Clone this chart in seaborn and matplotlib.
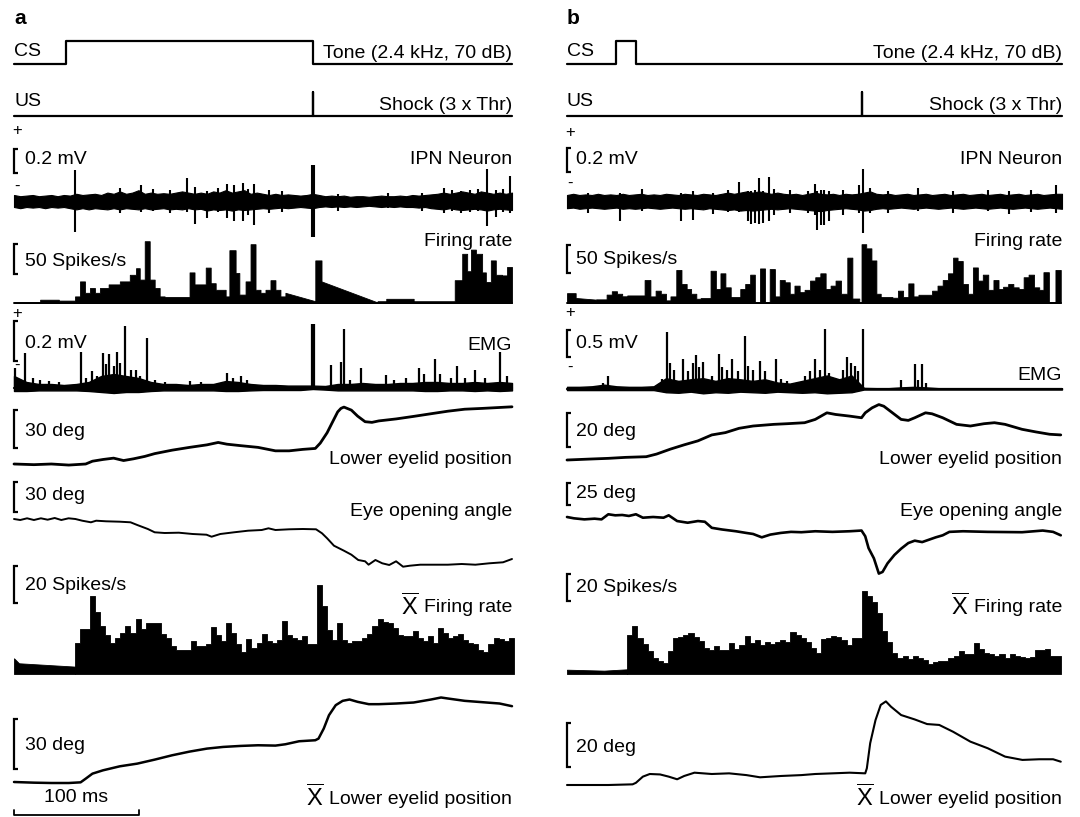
import numpy as np
import matplotlib
matplotlib.use("Agg")
import matplotlib.pyplot as plt
import seaborn as sns

sns.set_theme(style="white")
plt.rcParams['font.family'] = ['Liberation Sans', 'DejaVu Sans']
plt.rcParams['mathtext.fontset'] = 'custom'
plt.rcParams['mathtext.rm'] = 'Liberation Sans'

# ---------------- data (time in ms from sweep start) ----------------
# stimulus traces
cs_a_t = [0, 42, 42, 240, 240, 400]
cs_a_v = [0, 0, 1, 1, 0, 0]
us_a_t = [0, 240, 240, 240, 400]
us_a_v = [0, 0, 1, 0, 0]
cs_b_t = [0, 39.5, 39.5, 55.7, 55.7, 400]
cs_b_v = [0, 0, 1, 1, 0, 0]
us_b_t = [0, 238, 238, 238, 400]
us_b_v = [0, 0, 1, 0, 0]

# IPN unit recording (mV), noise envelope sampled every 5 ms + spikes
ipn_t = np.arange(0, 401, 5)
ipn_a_hi = [.05, .04, .045, .05, .04, .045, .05, .04, .05, .045,
            .06, .05, .055, .06, .05, .07, .06, .08, .06, .07,
            .09, .06, .07, .06, .065, .06, .07, .08, .07, .06,
            .07, .06, .08, .07, .09, .07, .08, .09, .06, .07,
            .06, .05, .06, .05, .055, .05, .045, .05, .06, .05,
            .04, .045, .04, .045, .035, .04, .04, .035, .04, .045,
            .04, .04, .045, .04, .05, .045, .05, .055, .06, .07,
            .06, .07, .08, .07, .06, .08, .07, .06, .07, .06, .07]
ipn_a_lo = [-.05, -.06, -.05, -.055, -.05, -.06, -.05, -.055, -.05, -.06,
            -.07, -.06, -.07, -.06, -.065, -.07, -.06, -.07, -.06, -.065,
            -.07, -.06, -.07, -.065, -.06, -.07, -.065, -.07, -.06, -.07,
            -.065, -.08, -.07, -.075, -.07, -.08, -.07, -.075, -.07, -.065,
            -.06, -.065, -.06, -.055, -.06, -.055, -.05, -.055, -.06, -.05,
            -.045, -.05, -.045, -.05, -.045, -.05, -.045, -.04, -.045, -.05,
            -.045, -.05, -.045, -.05, -.05, -.055, -.05, -.06, -.065, -.07,
            -.06, -.07, -.075, -.07, -.065, -.07, -.08, -.07, -.065, -.07, -.075]
ipn_a_spk_t = [49, 85, 102, 112, 125, 139, 145, 155, 164, 171, 177, 184, 188, 193,
               205, 215, 239, 240, 241, 260, 300, 328, 345, 352, 359, 366, 373,
               380, 387, 393, 398]
ipn_a_spk_hi = [.26, .11, .13, .10, .09, .19, .12, .08, .11, .14, .13, .15, .10, .14,
                .09, .08, .30, .30, .30, .06, .07, .07, .11, .09, .08, .09, .10,
                .27, .09, .10, .21]
ipn_a_spk_lo = [-.26, -.10, -.09, -.08, -.10, -.09, -.19, -.14, -.09, -.14, -.17, -.17, -.12, -.20,
                -.10, -.09, -.30, -.30, -.30, -.08, -.06, -.08, -.10, -.08, -.10, -.09, -.08,
                -.21, -.13, -.09, -.10]

ipn_b_hi = [.05, .06, .05, .055, .05, .06, .05, .055, .05, .06,
            .05, .055, .06, .05, .055, .05, .06, .055, .05, .06,
            .055, .05, .06, .055, .05, .06, .07, .06, .07, .08,
            .07, .08, .07, .06, .07, .06, .055, .06, .05, .06,
            .07, .06, .055, .06, .05, .06, .055, .06, .07, .08,
            .06, .055, .06, .05, .055, .06, .05, .055, .06, .05,
            .055, .06, .05, .055, .06, .05, .055, .06, .05, .055,
            .06, .05, .055, .06, .05, .055, .06, .05, .055, .06, .06]
ipn_b_lo = [-.06, -.055, -.065, -.06, -.055, -.06, -.065, -.06, -.055, -.065,
            -.06, -.065, -.06, -.055, -.06, -.065, -.06, -.055, -.06, -.065,
            -.06, -.065, -.07, -.06, -.065, -.07, -.075, -.07, -.08, -.075,
            -.08, -.075, -.07, -.065, -.07, -.065, -.06, -.065, -.07, -.075,
            -.08, -.085, -.075, -.07, -.065, -.06, -.065, -.07, -.08, -.075,
            -.065, -.06, -.065, -.06, -.055, -.06, -.065, -.06, -.055, -.06,
            -.065, -.06, -.055, -.06, -.065, -.06, -.055, -.06, -.065, -.06,
            -.055, -.06, -.065, -.06, -.055, -.06, -.065, -.06, -.055, -.06, -.065]
ipn_b_spk_t = [17, 43, 61, 92, 102, 118, 130, 139, 146, 149, 152, 155, 158, 163, 167,
               180, 195, 200, 202, 205, 208, 212, 223, 236, 239, 245, 259, 284, 312,
               340, 357, 375, 395]
ipn_b_spk_hi = [.07, .07, .10, .07, .08, .07, .09, .16, .08, .08, .09, .19, .08, .20, .10,
                .09, .08, .14, .08, .09, .09, .08, .09, .13, .27, .11, .08, .11, .08,
                .09, .08, .09, .13]
ipn_b_spk_lo = [-.10, -.17, -.08, -.17, -.16, -.11, -.09, -.09, -.17, -.19, -.18, -.19, -.18, -.17, -.12,
                -.10, -.10, -.12, -.24, -.20, -.20, -.17, -.12, -.10, -.27, -.10, -.10, -.08, -.10,
                -.08, -.11, -.09, -.10]

# single-trial firing rate (spikes/s): bin edges, rate at bin start / end
fr_a_edges = [0, 21, 36, 49, 53, 57, 61, 65, 69, 76, 85, 93, 98, 101, 105, 109, 113, 117,
              121, 141, 145, 154, 158, 162, 170, 173, 178, 181, 186, 190, 194, 198, 202,
              206, 210, 214, 218, 242, 247, 292, 299, 321, 354, 360, 364, 367, 371, 376,
              379, 383, 387, 392, 396, 400]
fr_a_start = [1, 5.5, 4, 11, 36, 17, 25, 17, 25, 31, 36, 47, 58, 39, 103, 39, 25, 11, 10,
              51, 31, 59, 33, 22, 11, 88, 50, 14, 36, 98, 22, 17, 22, 38, 22, 11, 17, 71,
              36, 3, 7, 3, 38, 82, 53, 89, 82, 51, 35, 71, 47, 46, 60]
fr_a_end = [1, 5.5, 4, 11, 36, 17, 25, 17, 25, 31, 36, 47, 58, 39, 103, 39, 25, 11, 10,
            51, 31, 59, 33, 22, 11, 88, 50, 14, 36, 98, 22, 17, 22, 38, 22, 11, 3, 71,
            1, 3, 7, 3, 38, 82, 53, 89, 82, 51, 35, 71, 47, 46, 60]

fr_b_edges = [0, 7, 23.7, 32, 36.2, 40.4, 44.6, 48.7, 62.7, 67.4, 71.6, 75.8, 80, 83.6,
              88.3, 92.5, 96.7, 100.3, 104.5, 108, 116, 120.3, 124, 128, 132.3, 140, 144,
              148, 151.8, 156, 160, 163.8, 168, 171.9, 176, 180, 183.8, 188, 192, 196.4,
              200.6, 204.7, 209, 213, 217, 221.4, 226.5, 230.6, 236.2, 238, 241.8, 246,
              250, 253.5, 263, 267.4, 271.6, 275.8, 280, 284, 295, 299.4, 303.6, 307.8,
              312, 315.6, 319.8, 324, 328, 332, 336, 340.4, 344.6, 348.7, 352.4, 356.5,
              360.7, 365, 369, 373, 377.4, 381.6, 385, 389.4, 394.7, 399]
fr_b_start = [17.6, 9, 6.5, 15, 21, 16.5, 12, 13.5, 41, 11.8, 22, 16.5, 4.7, 11.8, 59, 34,
              25, 16.5, 7.6, 8.8, 57.6, 25, 53, 28, 10.6, 25, 34, 50.6, 1.8, 61.7, 1.8,
              60.6, 11.8, 41, 37, 16.5, 31, 19.4, 23.5, 40, 46, 53, 25, 31, 40, 16.5, 81,
              8, 0, 105, 97.6, 76, 16.5, 10.6, 9.4, 22, 10.6, 35, 11.8, 14.7, 22, 31, 41,
              53, 81, 75, 34, 16.5, 63.5, 40, 50.6, 23.5, 41, 25, 29, 34, 28, 25, 46,
              50.6, 28, 23.5, 55, 1.8, 59]
fr_b_end = [17.6, 6, 6.5, 15, 21, 16.5, 12, 13.5, 41, 11.8, 22, 16.5, 4.7, 11.8, 59, 34,
            25, 16.5, 7.6, 8.8, 57.6, 25, 53, 28, 10.6, 25, 34, 50.6, 1.8, 61.7, 1.8,
            60.6, 11.8, 41, 37, 16.5, 31, 19.4, 23.5, 40, 46, 53, 25, 31, 40, 16.5, 81,
            8, 0, 105, 97.6, 76, 16.5, 10.6, 9.4, 22, 10.6, 35, 11.8, 14.7, 22, 31, 41,
            53, 81, 75, 34, 16.5, 63.5, 40, 50.6, 23.5, 41, 25, 29, 34, 28, 25, 46,
            50.6, 28, 23.5, 55, 1.8, 59]

# EMG (mV): baseline envelope every 10 ms + individual bursts
emg_t = np.arange(0, 401, 10)
emg_a_hi = [.06, .03, .02, .02, .015, .02, .03, .06, .07, .06,
            .05, .03, .02, .02, .015, .02, .02, .035, .03, .02,
            .015, .015, .012, .012, .012, .01, .02, .02, .025, .02,
            .02, .025, .025, .03, .03, .025, .025, .03, .025, .03, .025]
emg_a_lo = [-.015, -.015, -.012, -.012, -.012, -.012, -.015, -.02, -.025, -.02,
            -.02, -.015, -.012, -.012, -.012, -.012, -.012, -.015, -.015, -.012,
            -.01, -.01, -.01, -.01, -.005, -.008, -.012, -.012, -.012, -.012,
            -.012, -.012, -.012, -.015, -.015, -.012, -.012, -.015, -.012, -.015, -.012]
emg_a_pk_t = [1, 9, 15, 21, 28, 36, 53.5, 58, 63, 67, 71.5, 74, 76.5, 80, 83, 85, 89.5,
              93.6, 97.8, 101, 107, 113, 121, 141, 150, 171, 176, 182, 187, 239, 241,
              255, 262.6, 265, 270, 279, 298.6, 305, 315, 325, 329, 338, 342, 351, 356,
              362, 370.6, 378, 390.6, 396]
emg_a_pk_v = [.10, .175, .05, .04, .035, .03, .18, .05, .083, .06, .175, .12, .17, .11,
              .18, .125, .31, .09, .09, .06, .25, .04, .03, .035, .03, .075, .05, .06,
              .04, .32, .32, .117, .13, .295, .04, .10, .066, .04, .05, .10, .07, .145,
              .07, .05, .108, .05, .088, .05, .178, .06]

emg_b_hi = [.04, .04, .05, .08, .05, .04, .04, .05, .2, .15,
            .18, .2, .15, .2, .18, .15, .18, .12, .1, .15,
            .2, .25, .18, .25, .02, .015, .015, .03, .04, .03,
            .015, .015, .015, .015, .015, .015, .015, .015, .015, .015, .015]
emg_b_lo = [-.02, -.02, -.02, -.02, -.02, -.02, -.02, -.02, -.06, -.07,
            -.05, -.08, -.06, -.07, -.05, -.06, -.07, -.05, -.06, -.07,
            -.06, -.08, -.07, -.06, -.01, -.01, -.01, -.01, -.01, -.01,
            -.01, -.01, -.01, -.01, -.01, -.01, -.01, -.01, -.01, -.01, -.01]
emg_b_pk_t = [29, 33.4, 76.6, 80.8, 83.6, 86.4, 94, 97.5, 101.7, 104.5, 107, 110, 117,
              122.5, 125, 129.5, 133.7, 138, 143.5, 146, 150, 156, 160, 168.5, 172.7,
              178, 192, 196.4, 200.6, 204.7, 208.4, 211.7, 214.5, 222.8, 226.5, 229.8,
              232.6, 235.4, 239, 270, 281, 284, 287, 290]
emg_b_pk_v = [.11, .24, .19, 1.05, .49, .36, .55, .33, .49, .625, .4, .5, .24, .64, .4,
              .36, .56, .33, .975, .425, .36, .52, .33, .55, .18, .14, .24, .33, .56,
              .36, 1.11, .3, .18, .36, .6, .49, .425, .33, 1.11, .17, .46, .17, .46, .11]

# lower eyelid position (deg)
lid_a_t = [0, 16, 30, 44, 57.6, 63, 71.5, 80, 88, 96, 105, 113, 127, 141, 155, 164, 171,
           182, 196, 210, 221, 232, 242, 246, 251.5, 255.7, 260, 262.6, 265, 271, 276,
           282, 287.5, 293, 307, 321, 335, 348.5, 362, 376, 390, 400]
lid_a_v = [0, -0.5, 0, -0.8, 0, 2.1, 3.4, 4.4, 2.6, 3.9, 5.7, 7.8, 10.4, 12.5, 14.4,
           16.2, 14.9, 13.8, 12.5, 9.9, 9.9, 11, 11.7, 15.7, 23.5, 31.3, 39.2, 41.8,
           42.8, 40.5, 36, 31.8, 31.3, 32.4, 33.9, 35.8, 37.8, 39.7, 41.2, 41.8, 42.5, 43]
lid_b_t = [0, 19.5, 33.4, 47.4, 64, 72.4, 83.6, 94.7, 105.8, 117, 128, 139, 150.4, 167,
           178, 192, 200.6, 210, 217, 228.4, 238, 241, 246.5, 252, 256, 263, 270, 275.8,
           281, 289.7, 295, 303.6, 314.8, 326, 337, 345.4, 354, 367.7, 379, 390, 399]
lid_b_v = [0, 0.6, 1, 1.6, 2, 3.6, 6.6, 9.2, 11.6, 15.2, 16.6, 19.2, 20.6, 21.6, 22,
           22.6, 24.6, 28.6, 27.6, 26.6, 25.6, 28.6, 31.6, 33.6, 32.6, 28.6, 24.6, 24,
           25.6, 28.6, 28, 25.6, 21.6, 20.6, 22, 22.6, 21.6, 18.6, 17, 15.6, 15.2]

# eye opening angle (deg, relative to start)
eye_a_t = [0, 5, 10.5, 16, 21.6, 27, 32.7, 38, 43.8, 49.3, 54.8, 61.8, 66, 74, 85, 93.6,
           99, 107.5, 113, 121, 132.4, 143.5, 154.6, 158.7, 165.7, 176.7, 188, 199,
           204.4, 210, 221, 232, 242.6, 247.4, 251.5, 257, 265, 271, 276.5, 282, 284.8,
           290.3, 295.8, 301.4, 306.9, 312.5, 318, 326.3, 337.4, 348.5, 359.6, 370.6,
           381.7, 392.8, 400]
eye_a_v = [0, -1, 0.7, -1, 0.7, -0.7, 1, -1, 0.7, 0, -1.7, -3.3, -1.7, -2.3, -2.7,
           -3.3, -6, -10, -13.3, -14, -13.7, -15, -15.7, -17.7, -15, -13.3, -11.7, -11,
           -9.3, -11, -10.3, -10, -10.3, -14.3, -19.3, -26.7, -31.7, -35.7, -41, -42.3,
           -45.7, -41, -44.3, -46, -42.3, -47.7, -46.7, -45.7, -45.7, -45.7, -45, -45.7,
           -44.3, -43.3, -40]
eye_b_t = [0, 5.6, 14, 22.3, 27.9, 33.4, 39, 44.6, 50, 55.7, 61.3, 69.6, 78, 82.2, 89,
           97.5, 105.8, 111.4, 117, 125.3, 136.5, 144.8, 150.4, 157.4, 164.3, 172.7, 181,
           189.4, 200.6, 214.5, 228.4, 238, 241, 243.7, 248, 252, 255, 259, 264.6, 270,
           275.8, 281, 287, 292.5, 298, 303.6, 309, 320, 340, 367.7, 384.4, 392.8, 399]
eye_b_v = [0, -1.5, -2.7, -1.9, -2.7, 3.1, 1.9, 2.3, 1.2, 3.1, -0.8, 0, -0.8, 1.9, -4.6,
           -6.5, -4.6, -5.4, -12.3, -14.2, -16.2, -18.1, -19.3, -23.1, -20, -18.1, -16.9,
           -17.3, -16.2, -16.9, -16.2, -15.4, -21.9, -35.4, -47, -64.3, -62.4, -52.7,
           -43.1, -36, -29.6, -26.9, -28.5, -25.8, -23.1, -20.8, -16.9, -16.2, -16.9,
           -17.3, -15.4, -16.9, -20.8]

# averaged firing rate (spikes/s): slow pre-CS part + fixed-width bins
mfr_a_pre_t = [0, 4, 49]
mfr_a_pre_v = [8.5, 5.8, 4.0]
mfr_a_bin0, mfr_a_binw = 49, 4.05
mfr_a = [17, 24.4, 24.4, 42, 33.5, 26, 21, 17, 19.5, 22, 26, 22, 30, 24.4, 27.6, 27.6,
         27.6, 21.8, 19.5, 15, 13, 13, 13, 18, 15, 15, 16, 25.5, 21, 17.6, 27.6, 22, 16,
         12, 19, 14, 16.7, 21.8, 18, 17, 18.6, 28.6, 21, 19.5, 18.6, 20.4, 16, 16, 48,
         37, 24, 18.6, 27.6, 18.6, 16.7, 17.6, 17.6, 19.5, 21.8, 26, 29.5, 28, 27.3, 25,
         21, 20.4, 20.4, 23.5, 19.5, 17.6, 20.4, 17, 25, 22, 19.5, 20.4, 21.8, 18.6,
         16.7, 16, 13, 12, 16, 19.5, 19, 17.6, 19.5]
mfr_b_pre_t = [0, 30, 48.7]
mfr_b_pre_v = [3.2, 2.5, 3.5]
mfr_b_bin0, mfr_b_binw = 48.7, 4.12
mfr_b = [28.7, 35.7, 26.3, 22.1, 17, 12.2, 9.4, 8, 17, 26.3, 27.5, 28.7, 30.3, 27.5,
         24.4, 19.3, 18, 20.6, 18, 18, 22.9, 18.8, 21.2, 28.3, 22.9, 25.2, 21.6, 23.5,
         22.1, 24, 25.2, 23.5, 30.8, 28.7, 26.3, 23.5, 19.3, 15.8, 25.7, 26.3, 28.3,
         27.5, 25.2, 21.6, 26.3, 26.3, 61.7, 57.8, 53.3, 45, 32.1, 23.5, 15.8, 12.2,
         13.4, 11, 13.4, 12.2, 10.3, 7.1, 8.7, 9.9, 9.4, 11.6, 13.4, 17.3, 15, 14.5,
         22.9, 18.8, 15.8, 15, 13.4, 14.5, 12.2, 14.5, 13.4, 12.7, 12.2, 12.7, 18, 18,
         18.6, 13.4, 13.4]

# averaged lower eyelid position (deg)
mlid_a_t = [0, 16, 30, 44, 53.5, 57.6, 63, 71.5, 85, 99, 113, 127, 141, 155, 168, 182,
            196, 210, 218, 229, 242, 244.6, 248.8, 253, 258.4, 264, 269.5, 276, 285,
            293, 307, 321, 335, 343, 348.5, 362, 376, 390, 400]
mlid_a_v = [0, -0.4, -0.6, -0.6, -0.2, 2, 5, 7, 9.4, 11, 13.4, 16, 18.2, 20, 21, 21.6,
            22, 21.8, 22.6, 24.4, 25, 26, 32, 40, 46, 48.6, 49.4, 48, 46.6, 46.6, 47,
            47.6, 49.4, 50.6, 50, 48.6, 47.8, 47, 45.4]
mlid_b_t = [0, 19.5, 33.4, 53, 55.7, 61.3, 66.9, 75.2, 82.2, 89, 94.7, 103, 117, 131,
            145, 156, 173, 189.4, 200.6, 214.5, 228.4, 241, 242.3, 245, 249.3, 253.5,
            257.7, 261.8, 270, 281, 291, 300.8, 312, 326, 340, 354, 368, 381.6, 392.8, 399]
mlid_b_v = [0, 0, 0, 0.3, 1, 3.8, 5, 4.8, 3.8, 2.6, 4.1, 5.6, 5, 5.3, 4.5, 3.5, 4.1,
            4.5, 5, 5.3, 5.6, 5.3, 7.6, 19, 29.5, 36.4, 38, 35.6, 31.8, 29.8, 27.7,
            27.3, 24.2, 19.7, 16.7, 12.9, 11.4, 11.7, 11.7, 10.6]

# ---------------- figure ----------------
W, H = 1080, 817
fig = plt.figure(figsize=(W / 100, H / 100), dpi=100)
FS = 14
K = 'black'


def ftxt(x, y, s, ha='left', size=FS, **kw):
    return fig.text(x / W, 1 - y / H, s, ha=ha, va='center', fontsize=size, color=K, **kw)


def row(x0, x1, base, ppu, span=110):
    ax = fig.add_axes([x0 / W, 1 - (base + span) / H, (x1 - x0) / W, 2 * span / H])
    ax.set_xlim(0, 400)
    ax.set_ylim(-span / ppu, span / ppu)
    ax.set_axis_off()
    ax.patch.set_alpha(0)
    return ax


def bracket(ax, base, ppu, top, bot):
    vt, vb = (base - top) / ppu, (base - bot) / ppu
    ax.plot([3.4, 0, 0, 3.4], [vt, vt, vb, vb], color=K, lw=1.6, clip_on=False,
            solid_joinstyle='miter', solid_capstyle='butt')


def trace(ax, t, v, lw):
    sns.lineplot(x=t, y=v, ax=ax, color=K, lw=lw, sort=False, estimator=None,
                 legend=False)
    for ln in ax.lines:
        ln.set_clip_on(False)


def rate(ax, edges, v0, v1):
    xs, ys = [], []
    for i in range(len(v0)):
        xs += [edges[i], edges[i + 1]]
        ys += [v0[i], v1[i]]
    ax.fill_between(xs, 0, ys, color=K, lw=0.6, clip_on=False)
    ax.plot([0, edges[-1]], [0, 0], color=K, lw=1.4, clip_on=False)


def binned(ax, pre_t, pre_v, b0, bw, vals):
    edges = b0 + bw * np.arange(len(vals) + 1)
    ax.fill_between(pre_t, 0, pre_v, color=K, lw=0.6, clip_on=False)
    ax.fill_between(edges, 0, list(vals) + [vals[-1]], step='post', color=K, lw=0.6,
                    clip_on=False)


def xbar_label(x, y, s):
    t = ftxt(x, y, s, ha='right')
    bb = t.get_window_extent(renderer=fig.canvas.get_renderer())
    fig.text((bb.x0 - 5) / W, 1 - (y - 1) / H, r'$\overline{\mathrm{X}}$', ha='right',
             va='center', fontsize=17, color=K)


panels = [
    dict(x0=14, x1=512, tag='a', cs=(cs_a_t, cs_a_v), us=(us_a_t, us_a_v),
         ipn=(ipn_a_hi, ipn_a_lo, ipn_a_spk_t, ipn_a_spk_hi, ipn_a_spk_lo),
         fr=(fr_a_edges, fr_a_start, fr_a_end),
         emg=(emg_a_hi, emg_a_lo, emg_a_pk_t, emg_a_pk_v),
         lid=(lid_a_t, lid_a_v), eye=(eye_a_t, eye_a_v),
         mfr=(mfr_a_pre_t, mfr_a_pre_v, mfr_a_bin0, mfr_a_binw, mfr_a),
         mlid=(mlid_a_t, mlid_a_v)),
    dict(x0=567, x1=1062, tag='b', cs=(cs_b_t, cs_b_v), us=(us_b_t, us_b_v),
         ipn=(ipn_b_hi, ipn_b_lo, ipn_b_spk_t, ipn_b_spk_hi, ipn_b_spk_lo),
         fr=(fr_b_edges, fr_b_start, fr_b_end),
         emg=(emg_b_hi, emg_b_lo, emg_b_pk_t, emg_b_pk_v),
         lid=(lid_b_t, lid_b_v), eye=(eye_b_t, eye_b_v),
         mfr=(mfr_b_pre_t, mfr_b_pre_v, mfr_b_bin0, mfr_b_binw, mfr_b),
         mlid=(mlid_b_t, mlid_b_v)),
]

# per-panel layout: (baseline px, px per unit, bracket top px, bracket bottom px)
layout = {
    'a': dict(ipn=(201, 120, 149, 173), fr=(303, 0.6, 244, 274), emg=(388, 200, 321, 361),
              lid=(464, 1.33, 410, 448), eye=(519, 1.0, 482, 512), mfr=(674, 1.85, 566, 603),
              mlid=(782, 1.67, 719, 769)),
    'b': dict(ipn=(201, 120, 148, 172), fr=(303, 0.56, 245, 273), emg=(389, 54, 330, 357),
              lid=(460, 1.65, 413, 447), eye=(517, 0.88, 483, 505), mfr=(674, 1.35, 574, 601),
              mlid=(785, 2.2, 723, 767)),
}

for p in panels:
    x0, x1, L = p['x0'], p['x1'], layout[p['tag']]

    ax = row(x0, x1, 64, 23)
    trace(ax, *p['cs'], lw=1.6)
    ax = row(x0, x1, 116, 24)
    trace(ax, *p['us'], lw=1.6)

    base, ppu, bt, bb = L['ipn']
    ax = row(x0, x1, base, ppu)
    hi, lo, st, sh, sl = p['ipn']
    ax.fill_between(ipn_t, lo, hi, color=K, lw=0.8, clip_on=False)
    ax.vlines(st, sl, sh, color=K, lw=1.5, clip_on=False)
    bracket(ax, base, ppu, bt, bb)

    base, ppu, bt, bb = L['fr']
    ax = row(x0, x1, base, ppu)
    rate(ax, *p['fr'])
    bracket(ax, base, ppu, bt, bb)

    base, ppu, bt, bb = L['emg']
    ax = row(x0, x1, base, ppu)
    hi, lo, pt, pv = p['emg']
    ax.fill_between(emg_t, lo, hi, color=K, lw=1.0, clip_on=False)
    ax.plot([0, 400], [0, 0], color=K, lw=1.6, clip_on=False)
    ax.vlines(pt, 0, pv, color=K, lw=1.6, clip_on=False)
    bracket(ax, base, ppu, bt, bb)

    base, ppu, bt, bb = L['lid']
    ax = row(x0, x1, base, ppu)
    trace(ax, *p['lid'], lw=2.0)
    bracket(ax, base, ppu, bt, bb)

    base, ppu, bt, bb = L['eye']
    ax = row(x0, x1, base, ppu)
    trace(ax, *p['eye'], lw=1.4 if p['tag'] == 'a' else 1.9)
    bracket(ax, base, ppu, bt, bb)

    base, ppu, bt, bb = L['mfr']
    ax = row(x0, x1, base, ppu)
    binned(ax, *p['mfr'])
    bracket(ax, base, ppu, bt, bb)

    base, ppu, bt, bb = L['mlid']
    ax = row(x0, x1, base, ppu)
    trace(ax, *p['mlid'], lw=1.8 if p['tag'] == 'a' else 1.5)
    bracket(ax, base, ppu, bt, bb)
    if p['tag'] == 'a':
        yb, yt = (base - 815) / ppu, (base - 810) / ppu
        ax.plot([0, 0, 100, 100], [yt, yb, yb, yt], color=K, lw=1.3, clip_on=False)

# ---------------- text ----------------
ftxt(14, 19, 'a', weight='bold', size=15)
ftxt(567, 19, 'b', weight='bold', size=15)
for xl, xr in [(14, 512), (567, 1062)]:
    ftxt(xl, 51, 'CS')
    ftxt(xr, 54, 'Tone (2.4 kHz, 70 dB)', ha='right')
    ftxt(xl, 102, 'US')
    ftxt(xr, 105, 'Shock (3 x Thr)', ha='right')
    ftxt(xr, 159, 'IPN Neuron', ha='right')
    ftxt(xr, 241, 'Firing rate', ha='right')
    ftxt(xr, 460, 'Lower eyelid position', ha='right')
    ftxt(xr, 511, 'Eye opening angle', ha='right')
    xbar_label(xr, 608, 'Firing rate')
    xbar_label(xr, 799, 'Lower eyelid position')

# panel a scale labels
ftxt(17, 130, '+', ha='center', size=12)
ftxt(17, 186, '-', ha='center', size=12)
ftxt(25, 160, '0.2 mV')
ftxt(25, 261, '50 Spikes/s')
ftxt(17, 314, '+', ha='center', size=12)
ftxt(17, 365, '-', ha='center', size=12)
ftxt(25, 343, '0.2 mV')
ftxt(512, 345, 'EMG', ha='right')
ftxt(25, 432, '30 deg')
ftxt(25, 496, '30 deg')
ftxt(25, 586, '20 Spikes/s')
ftxt(25, 746, '30 deg')
ftxt(76, 798, '100 ms', ha='center')

# panel b scale labels
ftxt(570, 133, '+', ha='center', size=12)
ftxt(570, 183, '-', ha='center', size=12)
ftxt(576, 159, '0.2 mV')
ftxt(576, 259, '50 Spikes/s')
ftxt(570, 313, '+', ha='center', size=12)
ftxt(570, 367, '-', ha='center', size=12)
ftxt(576, 343, '0.5 mV')
ftxt(1062, 376, 'EMG', ha='right')
ftxt(576, 432, '20 deg')
ftxt(576, 493, '25 deg')
ftxt(576, 587, '20 Spikes/s')
ftxt(576, 747, '20 deg')

fig.savefig('out.png', dpi=100)
